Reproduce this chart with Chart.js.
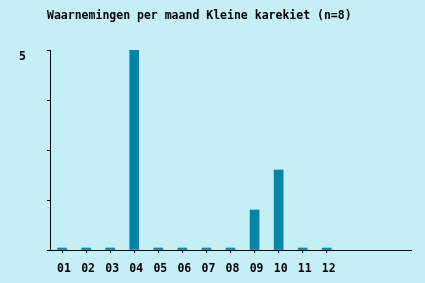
<!DOCTYPE html>
<html>
<head>
<meta charset="utf-8">
<script src="https://cdn.jsdelivr.net/npm/chart.js@4"></script>
<style>
  body { margin: 0; background: #c6eef7; }
  #wrap { width: 425px; height: 283px; }
</style>
</head>
<body>
<div id="wrap"><canvas id="myChart"></canvas></div>
<script>
// data
const titleText = 'Waarnemingen per maand Kleine karekiet (n=8)';
const months = ['01', '02', '03', '04', '05', '06', '07', '08', '09', '10', '11', '12', '', '', ''];
const counts = [0, 0, 0, 5, 0, 0, 0, 0, 1, 2, 0, 0, null, null, null];
const yTicks = [0, 1.25, 2.5, 3.75, 5];
const yLabelShown = 5;

const barColor = '#0086a8';
const monoFont = 'DejaVu Sans Mono';

// title drawn left, above the plot
const titlePlugin = {
  id: 'leftTitle',
  afterDraw(chart) {
    const ctx = chart.ctx;
    ctx.save();
    ctx.font = 'bold 11.5px "' + monoFont + '"';
    ctx.fillStyle = '#000';
    ctx.textBaseline = 'middle';
    ctx.textAlign = 'left';
    ctx.fillText(titleText, 47, 16);
    ctx.restore();
  }
};

function initChart(target) {
  const chart = new Chart(target, {
    type: 'bar',
    data: {
      labels: months,
      datasets: [{
        label: 'waarnemingen',
        data: counts,
        backgroundColor: barColor,
        barThickness: 9,
        minBarLength: 2,
        borderWidth: 0
      }]
    },
    options: {
      responsive: true,
      maintainAspectRatio: false,
      animation: false,
      layout: { padding: { top: 50, right: 14, left: 0, bottom: 0 } },
      plugins: {
        legend: { display: false },
        title: { display: false },
        tooltip: { enabled: false }
      },
      scales: {
        x: {
          offset: true,
          grid: {
            offset: false,
            drawOnChartArea: false,
            tickLength: 3,
            color: (c) => (c.index < 12 ? '#000' : 'rgba(0,0,0,0)')
          },
          border: { color: '#000', width: 1 },
          ticks: {
            color: '#000',
            padding: 9,
            labelOffset: 2,
            autoSkip: false,
            maxRotation: 0,
            font: { family: monoFont, size: 11.5, weight: 'bold' }
          },
          afterFit: (scale) => { scale.height = 33; }
        },
        y: {
          min: 0,
          max: 5,
          afterBuildTicks: (scale) => { scale.ticks = yTicks.map((v) => ({ value: v })); },
          grid: { drawOnChartArea: false, tickLength: 3, color: '#000' },
          border: { color: '#000', width: 1 },
          ticks: {
            color: '#000',
            padding: 21,
            labelOffset: 7,
            font: { family: monoFont, size: 11.5, weight: 'bold' },
            callback: (v) => (v === yLabelShown ? String(v) : '')
          },
          afterFit: (scale) => { scale.width = 50; }
        }
      }
    },
    plugins: [titlePlugin]
  });
  return chart;
}

document.addEventListener('DOMContentLoaded', () => initChart(document.querySelector('#myChart')));
</script>
</body>
</html>
